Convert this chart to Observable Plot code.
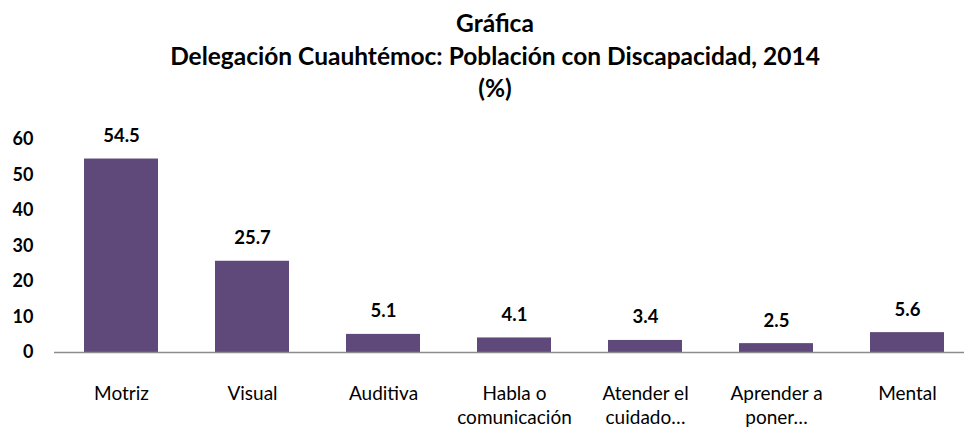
<!DOCTYPE html>
<html>
<head>
<meta charset="utf-8">
<script src="https://cdn.jsdelivr.net/npm/d3@7"></script>
<script src="https://cdn.jsdelivr.net/npm/@observablehq/plot@0.6"></script>
<style>
  html, body { margin: 0; padding: 0; background: #fff; }
  #wrap { position: relative; width: 964px; height: 428px; overflow: hidden; font-family: Lato, sans-serif; }
  #title { position: absolute; left: 0; top: 7px; width: 964px; box-sizing: border-box; padding-left: 26px; font-weight: bold; font-size: 24.5px; color: #000; }
  #title div { height: 32.5px; line-height: 32.5px; text-align: center; white-space: nowrap; }
  #chart { position: absolute; left: 0; top: 0; }
</style>
</head>
<body>
<div id="wrap">
  <div id="chart"></div>
  <div id="title">
    <div>Gráfica</div>
    <div>Delegación Cuauhtémoc: Población con Discapacidad, 2014</div>
    <div>(%)</div>
  </div>
</div>
<script>
const categories = ["Motriz", "Visual", "Auditiva", "Habla o comunicación", "Atender el cuidado…", "Aprender a poner…", "Mental"];
const tickLabels = ["Motriz", "Visual", "Auditiva", "Habla o\ncomunicación", "Atender el\ncuidado…", "Aprender a\nponer…", "Mental"];
const values = [54.5, 25.7, 5.1, 4.1, 3.4, 2.5, 5.6];
const yTicks = [0, 10, 20, 30, 40, 50, 60];

const data = categories.map((c, i) => ({category: c, value: values[i]}));
const labelOf = new Map(categories.map((c, i) => [c, tickLabels[i]]));

const chart = Plot.plot({
  width: 964,
  height: 428,
  marginTop: 139,
  marginBottom: 76,
  marginLeft: 54,
  marginRight: 0,
  style: {fontFamily: "Lato, sans-serif", color: "#000", background: "#fff", overflow: "visible"},
  x: {domain: categories, range: [54, 974], paddingInner: 0.433, paddingOuter: 0.2165, label: null},
  y: {domain: [0, 60], label: null},
  marks: [
    Plot.barY(data, {x: "category", y: "value", fill: "#5F497A"}),
    Plot.ruleY([0], {stroke: "#8C8C8C", strokeWidth: 1.5}),
    Plot.text(data, {x: "category", y: "value", text: d => d.value.toFixed(1), dy: -23, lineAnchor: "middle", fontWeight: "bold", fontSize: 18.5, fill: "#000"}),
    Plot.axisX({tickSize: 0, tickPadding: 30, fontSize: 19, lineHeight: 1.27, tickFormat: d => labelOf.get(d), fill: "#000"}),
    Plot.axisY({ticks: yTicks, tickSize: 0, tickPadding: 21, fontSize: 18, fontWeight: "bold", fill: "#000"})
  ]
});
document.getElementById("chart").appendChild(chart);
</script>
</body>
</html>
